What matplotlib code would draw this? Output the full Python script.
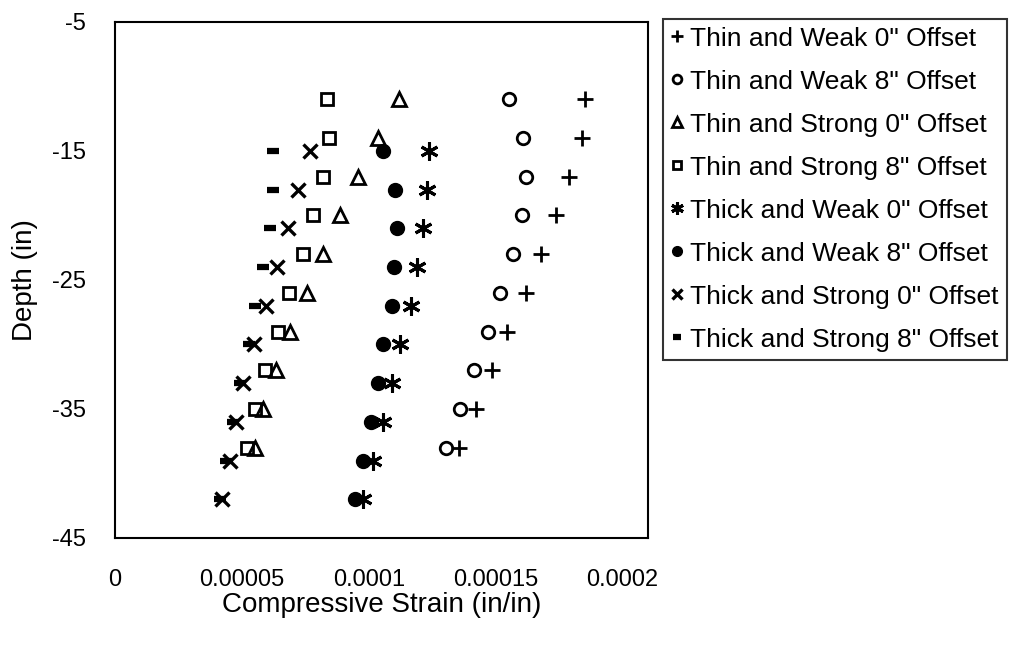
import matplotlib
matplotlib.use("Agg")
import matplotlib.pyplot as plt

plt.rcParams["font.family"] = ["Liberation Sans", "DejaVu Sans"]
plt.rcParams["axes.unicode_minus"] = False

# depths (in)
depth_thin = [-11, -14, -17, -20, -23, -26, -29, -32, -35, -38]
depth_thick = [-15, -18, -21, -24, -27, -30, -33, -36, -39, -42]

# compressive strain (in/in) (x 1e-5)
thin_weak_0 = [18.50, 18.39, 17.87, 17.36, 16.77, 16.18, 15.43, 14.84, 14.21, 13.54]
thin_weak_8 = [15.51, 16.06, 16.18, 16.02, 15.67, 15.16, 14.69, 14.13, 13.58, 13.03]
thin_strong_0 = [11.18, 10.35, 9.57, 8.86, 8.19, 7.56, 6.89, 6.34, 5.83, 5.51]
thin_strong_8 = [8.35, 8.43, 8.19, 7.80, 7.40, 6.85, 6.42, 5.91, 5.51, 5.20]
thick_weak_0 = [12.36, 12.28, 12.13, 11.89, 11.65, 11.22, 10.91, 10.55, 10.16, 9.76]
thick_weak_8 = [10.55, 11.02, 11.10, 10.98, 10.91, 10.55, 10.35, 10.08, 9.76, 9.45]
thick_strong_0 = [7.68, 7.20, 6.81, 6.38, 5.94, 5.47, 5.04, 4.76, 4.53, 4.21]
thick_strong_8 = [6.22, 6.22, 6.10, 5.83, 5.51, 5.28, 4.92, 4.65, 4.37, 4.13]

labels = [
    'Thin and Weak 0" Offset',
    'Thin and Weak 8" Offset',
    'Thin and Strong 0" Offset',
    'Thin and Strong 8" Offset',
    'Thick and Weak 0" Offset',
    'Thick and Weak 8" Offset',
    'Thick and Strong 0" Offset',
    'Thick and Strong 8" Offset',
]
x_ticks = [0, 0.00005, 0.0001, 0.00015, 0.0002]
x_tick_labels = ["0", "0.00005", "0.0001", "0.00015", "0.0002"]
y_ticks = [-5, -15, -25, -35, -45]

series = [
    (thin_weak_0, depth_thin, dict(marker="+", ms=12, mew=2.0, mfc="none")),
    (thin_weak_8, depth_thin, dict(marker="o", ms=9, mew=2.0, mfc="none")),
    (thin_strong_0, depth_thin, dict(marker="^", ms=10, mew=2.0, mfc="none")),
    (thin_strong_8, depth_thin, dict(marker="s", ms=9, mew=2.0, mfc="none")),
    (thick_weak_0, depth_thick, dict(marker=(6, 2, 0), ms=13, mew=2.2)),
    (thick_weak_8, depth_thick, dict(marker="o", ms=10, mew=1, mfc="black")),
    (thick_strong_0, depth_thick, dict(marker="x", ms=10, mew=2.4)),
    (thick_strong_8, depth_thick, dict(marker="_", ms=9, mew=4.5)),
]

fig = plt.figure(figsize=(10.1, 6.45), dpi=100, facecolor="white")
ax = fig.add_axes([0.1139, 0.1659, 0.5277, 0.8000])

handles = []
for (xs, ys, style), lab in zip(series, labels):
    h, = ax.plot([v * 1e-5 for v in xs], ys, linestyle="none", color="black",
                 mec="black", label=lab, **style)
    handles.append(h)

ax.set_xlim(0, 0.00021)
ax.set_ylim(-45, -5)
ax.set_xticks(x_ticks)
ax.set_xticklabels(x_tick_labels)
ax.set_yticks(y_ticks)
ax.tick_params(length=0, labelsize=17)
ax.tick_params(axis="x", pad=22)
ax.tick_params(axis="y", pad=21)
for s in ax.spines.values():
    s.set_linewidth(1.5)
ax.set_xlabel("Compressive Strain (in/in)", fontsize=20, labelpad=1)
ax.set_ylabel("Depth (in)", fontsize=20, labelpad=10)

leg = fig.legend(handles=handles, loc="upper left", bbox_to_anchor=(0.656, 0.971),
                 frameon=True, fancybox=False, edgecolor="black", fontsize=19,
                 handlelength=0.5, handletextpad=0.25, labelspacing=0.72,
                 borderpad=0.3, markerscale=0.7, borderaxespad=0)
leg.get_frame().set_linewidth(1.5)

fig.savefig("out.png", dpi=100, facecolor="white")
